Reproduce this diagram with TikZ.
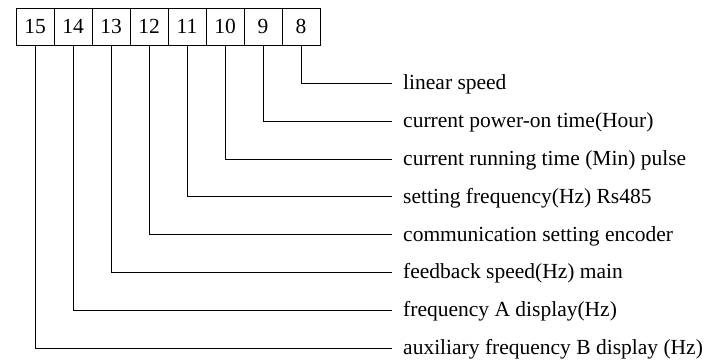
\documentclass[tikz,border=0pt]{standalone}
\usepackage{fontspec}
\setmainfont{Liberation Serif}
\usetikzlibrary{positioning}

\tikzset{
  bitbox/.style={draw, line width=0.8pt, minimum width=38pt, minimum height=37pt,
    inner sep=0pt, outer sep=0pt, font=\fontsize{21.5}{24}\selectfont},
  bitlabel/.style={anchor=west, inner xsep=11pt, inner ysep=0pt, text height=16pt,
    text depth=3pt, font=\fontsize{21.5}{24}\selectfont},
  wire/.style={line width=0.8pt}
}

\begin{document}
\begin{tikzpicture}[x=1pt,y=-1pt]
        \useasboundingbox (0,0) rectangle (719,359);

        % the eight bits
        \node[bitbox] (b15) at (35,26.5) {15};
        \node[bitbox, right=0pt of b15] (b14) {14};
        \node[bitbox, right=0pt of b14] (b13) {13};
        \node[bitbox, right=0pt of b13] (b12) {12};
        \node[bitbox, right=0pt of b12] (b11) {11};
        \node[bitbox, right=0pt of b11] (b10) {10};
        \node[bitbox, right=0pt of b10] (b9) {9};
        \node[bitbox, right=0pt of b9] (b8) {8};

        % meanings
        \node[bitlabel] (l8) at (392,83) {linear speed};
        \node[bitlabel] (l9) at (392,121) {current power-on time(Hour)};
        \node[bitlabel] (l10) at (392,159) {current running time (Min) pulse};
        \node[bitlabel] (l11) at (392,196.5) {setting frequency(Hz) Rs485};
        \node[bitlabel] (l12) at (392,234.5) {communication setting encoder};
        \node[bitlabel] (l13) at (392,272) {feedback speed(Hz) main};
        \node[bitlabel] (l14) at (392,310) {frequency A display(Hz)};
        \node[bitlabel] (l15) at (392,348) {auxiliary frequency B display (Hz)};

        \draw[wire] (b8.south) |- (l8.west);
        \draw[wire] (b9.south) |- (l9.west);
        \draw[wire] (b10.south) |- (l10.west);
        \draw[wire] (b11.south) |- (l11.west);
        \draw[wire] (b12.south) |- (l12.west);
        \draw[wire] (b13.south) |- (l13.west);
        \draw[wire] (b14.south) |- (l14.west);
        \draw[wire] (b15.south) |- (l15.west);
    \end{tikzpicture}
\end{document}
